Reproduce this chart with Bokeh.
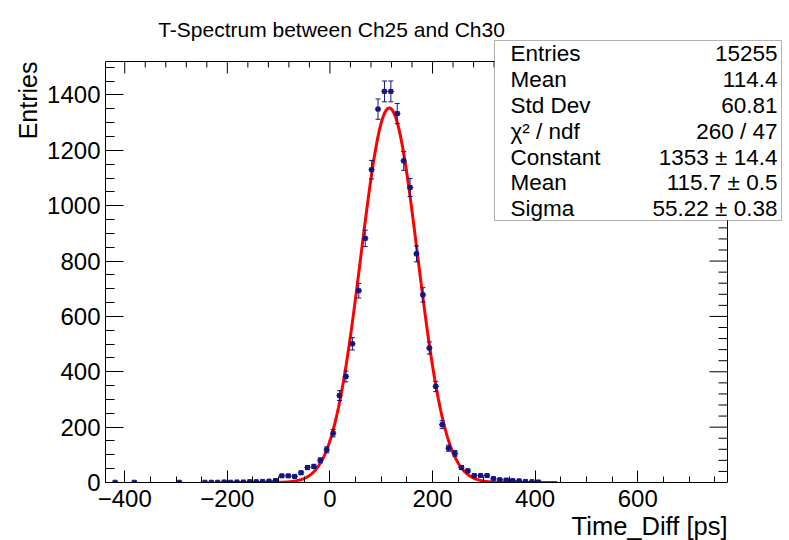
import numpy as np
from bokeh.plotting import figure
from bokeh.models import (Range1d, SingleIntervalTicker, LinearAxis, Label, BoxAnnotation,
                          ColumnDataSource, Title, CustomJSTickFormatter)
from bokeh.embed import file_html
from bokeh.resources import INLINE

# ---------------- data ----------------
title_text = "T-Spectrum between Ch25 and Ch30"
x_title = "Time_Diff [ps]"
y_title = "Entries"

bin_width = 12.5
bin_centers = [-418.75, -381.25, -293.75, -243.75, -231.25, -218.75, -206.25, -193.75,
               -181.25, -168.75, -156.25, -143.75, -131.25, -118.75, -106.25, -93.75,
               -81.25, -68.75, -56.25, -43.75, -31.25, -18.75, -6.25, 6.25,
               18.75, 31.25, 43.75, 56.25, 68.75, 81.25, 93.75, 106.25,
               118.75, 131.25, 143.75, 156.25, 168.75, 181.25, 193.75, 206.25,
               218.75, 231.25, 243.75, 256.25, 268.75, 281.25, 293.75, 306.25,
               318.75, 331.25, 343.75, 356.25, 368.75, 381.25, 393.75, 406.25]
counts = [1, 1, 1, 1, 1, 1, 2, 1,
          2, 2, 3, 3, 4, 5, 7, 24,
          24, 22, 35, 54, 58, 80, 118, 178,
          314, 383, 501, 693, 882, 1130, 1349, 1413,
          1413, 1333, 1162, 1066, 826, 678, 486, 347,
          209, 124, 105, 54, 42, 25, 25, 25,
          14, 10, 9, 7, 6, 4, 3, 2]

fit_constant = 1353.0
fit_mean = 115.7
fit_sigma = 55.22
fit_range = (-212.0, 443.0)

stat_names = ["Entries", "Mean", "Std Dev", "\u03c7\u00b2 / ndf", "Constant", "Mean", "Sigma"]
stat_values = ["15255", "114.4", "60.81", "260 / 47", "1353 \u00b1 14.4", "115.7 \u00b1 0.5", "55.22 \u00b1 0.38"]

x_lo, x_hi = -437.5, 775.0
y_lo, y_hi = 0.0, 1521.0
x_major, x_minor_n = 200, 4
y_major, y_minor_n = 200, 4

# ---------------- layout (pixels) ----------------
W, H = 789, 540
VL, VR, VT, VB = 105, 727, 61, 482      # visible (ROOT) frame
BR, BT = 786, 0                          # bokeh frame extends under the title and stats box
FONT = "Liberation Sans"

sx = (VR - VL) / (x_hi - x_lo)           # px per x unit
sy = (VB - VT) / (y_hi - y_lo)           # px per y unit
x_end = x_hi + (BR - VR) / sx
y_end = y_hi + (VT - BT) / sy

p = figure(width=W, height=H, output_backend="svg", toolbar_location=None,
           x_range=Range1d(x_lo, x_end), y_range=Range1d(y_lo, y_end),
           min_border_left=VL, min_border_right=W - BR, min_border_top=BT, min_border_bottom=H - VB,
           x_axis_location=None, y_axis_location=None)
p.background_fill_color = "white"
p.border_fill_color = "white"
p.outline_line_color = None
p.xgrid.visible = False
p.ygrid.visible = False


def make_axis(side, interval, nminor, tick_in, minor_in, bounds, standoff):
    ax = LinearAxis(ticker=SingleIntervalTicker(interval=interval, num_minor_ticks=nminor), bounds=bounds)
    ax.axis_line_color = "black"
    ax.major_tick_line_color = "black"
    ax.minor_tick_line_color = "black"
    ax.major_tick_in = tick_in
    ax.major_tick_out = 0
    ax.minor_tick_in = minor_in
    ax.minor_tick_out = 0
    ax.major_label_text_font = FONT
    ax.major_label_text_font_size = "24px"
    ax.major_label_text_color = "black"
    ax.major_label_standoff = standoff
    p.add_layout(ax, side)
    return ax


xb = make_axis("below", x_major, x_minor_n, 12, 6, (x_lo, x_hi), 7)
yl = make_axis("left", y_major, y_minor_n, 18, 9, (y_lo, y_hi), 5)
xb.formatter = CustomJSTickFormatter(code="return tick < 0 ? '\u2212' + Math.abs(tick) : '' + tick;")

p.add_layout(Title(text=x_title, align="right", offset=BR - VR, text_font=FONT, text_font_size="25.5px",
                   text_font_style="normal", text_color="black", standoff=0), "below")
p.add_layout(Title(text=y_title, align="right", offset=VT - BT, text_font=FONT, text_font_size="25px",
                   text_font_style="normal", text_color="black", standoff=6), "left")


def dx(px):
    return x_lo + (px - VL) / sx


def dy(py):
    return y_lo + (VB - py) / sy


# main title (inside the extended bokeh frame)
p.add_layout(Label(x=dx(331), y=dy(29), text=title_text, text_align="center", text_baseline="alphabetic",
                   text_font=FONT, text_font_size="21px", text_color="black"))

# ---------------- frame top/right with ticks (ROOT style) ----------------
fr = dict(line_color="black", line_width=1)
p.line([x_lo, x_hi, x_hi], [y_hi, y_hi, y_lo], **fr)
x_step = x_major / (x_minor_n + 1)
xt = np.arange(np.ceil(x_lo / x_step) * x_step, x_hi, x_step)
xt_len = np.where(np.isclose(np.mod(xt, x_major), 0) | np.isclose(np.mod(xt, x_major), x_major), 12, 6) / sy
p.segment(x0=xt, y0=np.full_like(xt, y_hi), x1=xt, y1=y_hi - xt_len, **fr)
y_step = y_major / (y_minor_n + 1)
yt = np.arange(np.ceil(y_lo / y_step) * y_step, y_hi, y_step)
yt = yt[yt > y_lo]
yt_len = np.where(np.isclose(np.mod(yt, y_major), 0) | np.isclose(np.mod(yt, y_major), y_major), 18, 9) / sx
p.segment(x0=np.full_like(yt, x_hi), y0=yt, x1=x_hi - yt_len, y1=yt, **fr)

# ---------------- glyphs ----------------
xc = np.array(bin_centers, dtype=float)
yc = np.array(counts, dtype=float)
err = np.sqrt(yc)
src = ColumnDataSource(dict(x=xc, y=yc, lo=yc - err, hi=yc + err,
                            xl=xc - bin_width / 2, xr=xc + bin_width / 2))

navy = "#141480"
fx = np.linspace(fit_range[0], fit_range[1], 600)
fy = fit_constant * np.exp(-0.5 * ((fx - fit_mean) / fit_sigma) ** 2)
p.line(fx, fy, line_color="#ff0000", line_width=3)

p.segment(x0="x", y0="lo", x1="x", y1="hi", source=src, line_color=navy, line_width=1)
p.segment(x0="xl", y0="y", x1="xr", y1="y", source=src, line_color=navy, line_width=1)
p.scatter(x="x", y="lo", source=src, marker="dash", size=5, line_color=navy, line_width=1)
p.scatter(x="x", y="hi", source=src, marker="dash", size=5, line_color=navy, line_width=1)
p.scatter(x="x", y="y", source=src, marker="square", size=4, fill_color=navy, line_color=navy)

# ---------------- stats box ----------------
p.add_layout(BoxAnnotation(left=dx(494), right=dx(781), top=dy(40), bottom=dy(220),
                           fill_color="white", fill_alpha=1.0, line_color="black", line_width=1))
row0, row_step = 53.3, 25.8
for i, (nm, vl) in enumerate(zip(stat_names, stat_values)):
    yy = dy(row0 + i * row_step)
    p.add_layout(Label(x=dx(510), y=yy, text=nm, text_align="left", text_baseline="middle",
                       text_font=FONT, text_font_size="22.5px", text_color="black"))
    p.add_layout(Label(x=dx(777), y=yy, text=vl, text_align="right", text_baseline="middle",
                       text_font=FONT, text_font_size="22.5px", text_color="black"))

open("out.html", "w").write(file_html(p, INLINE))
